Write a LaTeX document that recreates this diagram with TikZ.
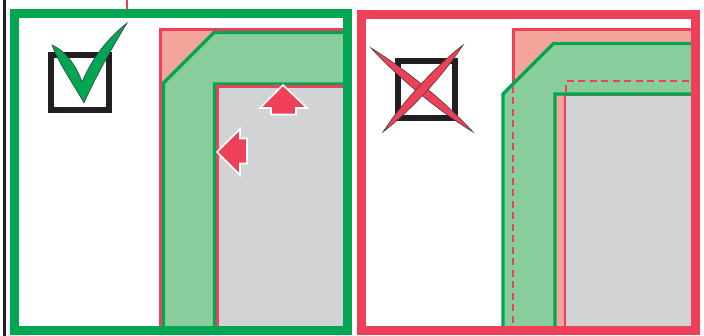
\documentclass[tikz,border=0pt]{standalone}
\usepackage{tikz}
\usetikzlibrary{calc}
\usepackage{xcolor}
\definecolor{okgreen}{HTML}{00A651}
\definecolor{bandgreen}{HTML}{8ACD9D}
\definecolor{badred}{HTML}{EE4058}
\definecolor{salmon}{HTML}{F5A49B}
\definecolor{slabgray}{HTML}{D1D3D4}
\definecolor{ink}{HTML}{231F20}
\tikzset{
  framebox/.style={line width=9pt,line join=miter},
  okframe/.style={framebox,draw=okgreen},
  badframe/.style={framebox,draw=badred},
  cover/.style={fill=salmon,draw=badred,line width=3pt},
  band/.style={fill=bandgreen,draw=okgreen,line width=3.2pt,line join=miter},
  slab/.style={fill=slabgray,draw=badred,line width=2.6pt},
  pushtip/.style={fill=badred,draw=white,line width=1.6pt,line join=miter},
  tickbox/.style={draw=ink,line width=5.5pt},
  signok/.style={fill=okgreen,draw=ink!85,line width=0.6pt},
  signbad/.style={fill=badred,draw=ink!85,line width=0.6pt},
  guide/.style={draw=badred,line width=2.2pt,dash pattern=on 7pt off 4.5pt},
}

\begin{document}
\begin{tikzpicture}[x=1pt,y=-1pt]
\useasboundingbox (0,0) rectangle (704,336);

% edge marks
\draw[ink,line width=2.8pt] (4.5,0) -- (4.5,336);
\draw[badred,line width=1.8pt] (127,0) -- (127,10);

% good case
\draw[cover] (160.5,29.5) rectangle (347,330);
\draw[band] (163.5,330) -- (163.5,83) -- (214,32.5) -- (347,32.5)
  -- (347,84) -- (214.5,84) -- (214.5,330) -- cycle;
\draw[slab] (217.3,86.8) rectangle (347,330);
\draw[pushtip] (283,85) -- (307,108) -- (296,108) -- (296,114.5)
  -- (271,114.5) -- (271,108) -- (260,108) -- cycle;
\draw[pushtip] (217,152) -- (240,129) -- (240,138.5) -- (247,138.5)
  -- (247,163.5) -- (240,163.5) -- (240,175) -- cycle;
\draw[okframe] (14,14) rectangle (347.5,330.5);

\draw[tickbox] (51,55) rectangle (109,110);
\draw[signok] (52,45) .. controls (64,50) and (76,64) .. (82,82)
  .. controls (92,58) and (108,38) .. (127,23)
  .. controls (112,48) and (96,76) .. (84,103)
  .. controls (72,82) and (58,62) .. (52,45) -- cycle;

% bad case
\draw[cover] (513,29.5) rectangle (695,330);
\draw[slab] (565,95) rectangle (695,330);
\draw[band] (503,330) -- (503,94) -- (553.5,43.5) -- (695,43.5)
  -- (695,94) -- (555,94) -- (555,330) -- cycle;
\draw[guide] (513,86) -- (513,326);
\draw[guide] (566,92) -- (566,81) -- (691,81);
\draw[badframe] (361.5,14.5) rectangle (695,330.5);

\draw[tickbox] (398,61) rectangle (455,118);
\draw[signbad] (371,48) .. controls (398.2,77.8) and (439,111.4) .. (473,132)
  .. controls (445.8,102.2) and (405,68.6) .. (371,48) -- cycle;
\draw[signbad] (463,45) .. controls (434.6,67) and (402.6,101.8) .. (383,132)
  .. controls (411.4,110) and (443.4,75.2) .. (463,45) -- cycle;

\end{tikzpicture}
\end{document}
